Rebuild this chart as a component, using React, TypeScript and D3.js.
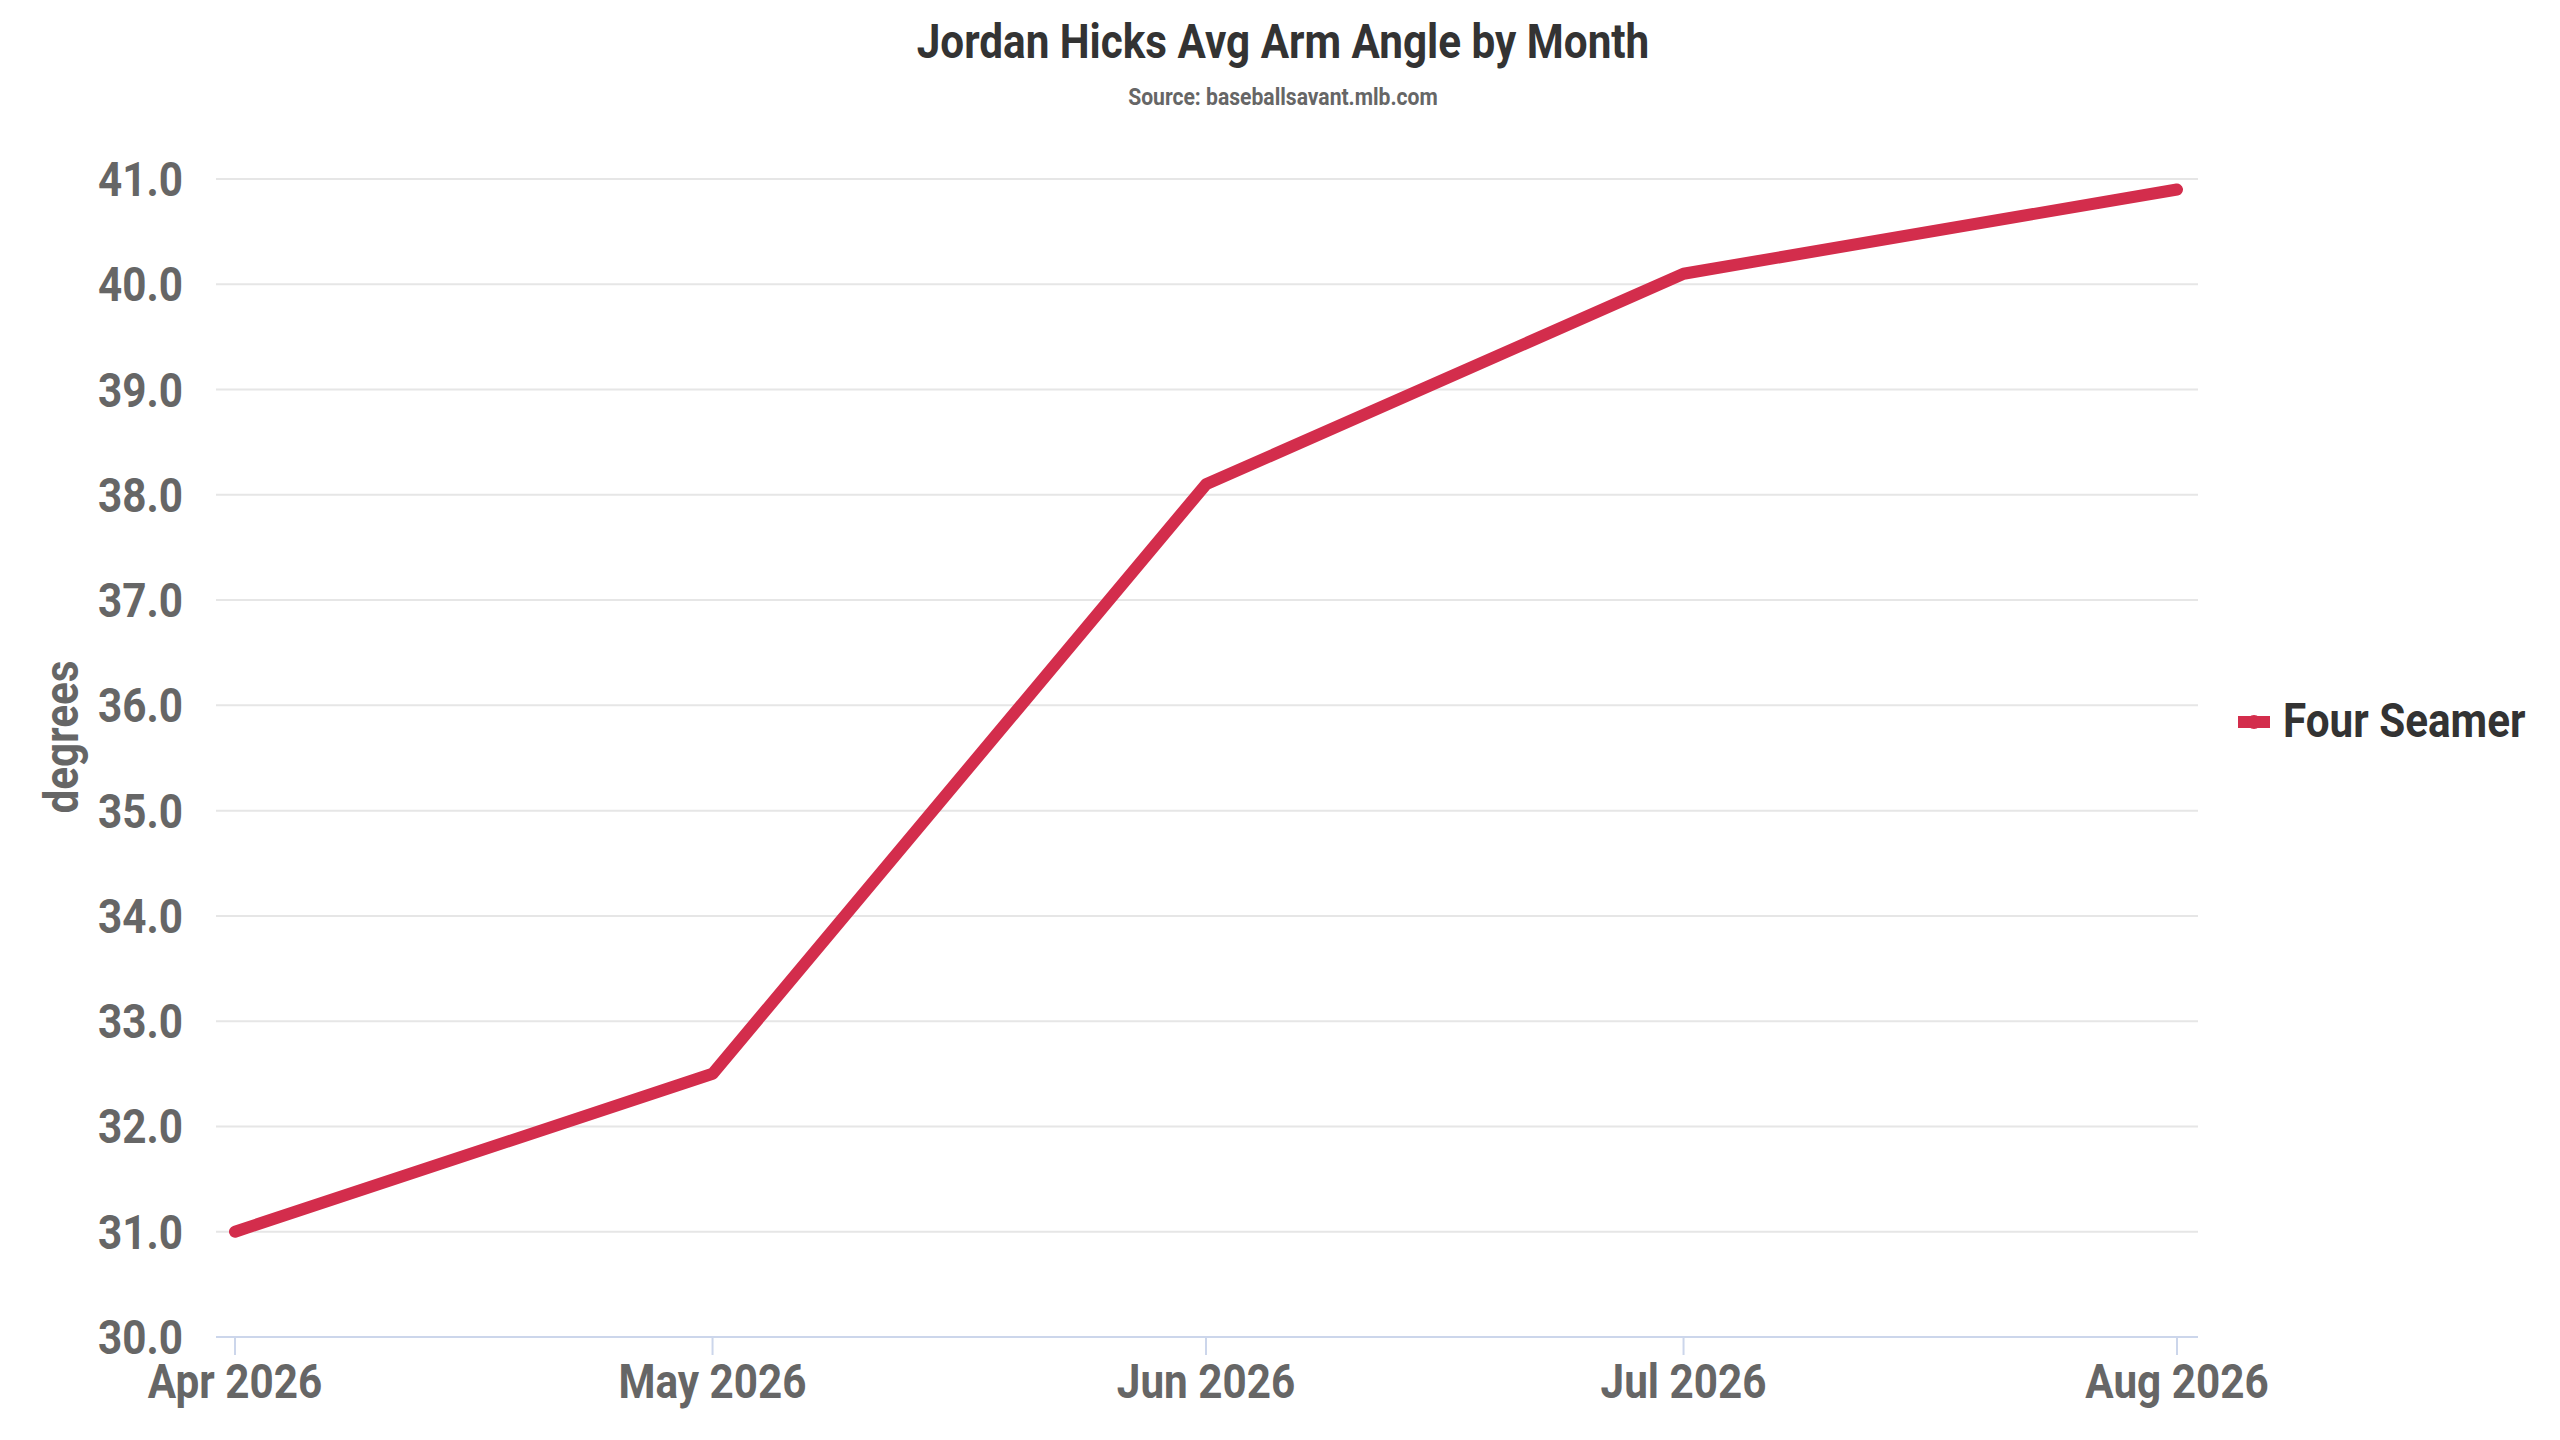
import * as d3 from "d3";

const months = ["2026-04-01", "2026-05-01", "2026-06-01", "2026-07-01", "2026-08-01"];
const fourSeamer = [31.0, 32.5, 38.1, 40.1, 40.9];
const yTicks = [30, 31, 32, 33, 34, 35, 36, 37, 38, 39, 40, 41];
const seriesName = "Four Seamer";
const title = "Jordan Hicks Avg Arm Angle by Month";
const subtitle = "Source: baseballsavant.mlb.com";

const W = 2560, H = 1440;
const plot = { left: 216, right: 2198, top: 179, bottom: 1337 };
const RED = "#d32d4c";
const FONT = "Roboto, 'Noto Sans', sans-serif";
const SQ = 0.88; // squeeze Roboto to look like the condensed face

// text squeezed horizontally around its anchor point
function Cond({ x, y, size, fill, anchor = "start", children, rotate = 0 }: any) {
  return (
    <g transform={`translate(${x},${y}) rotate(${rotate}) scale(${SQ},1)`}>
      <text x={0} y={0} fontSize={size} fontWeight={700} fill={fill} textAnchor={anchor} fontFamily={FONT}>
        {children}
      </text>
    </g>
  );
}

export default function App() {
  const dates = months.map((m) => new Date(m + "T00:00:00Z"));
  const data = dates.map((d, i) => ({ d, v: fourSeamer[i] }));

  const x = d3.scaleUtc().domain([dates[0], dates[dates.length - 1]]).range([235, 2177]);
  const y = d3.scaleLinear().domain([30, 41]).range([plot.bottom, plot.top]);
  const line = d3.line<(typeof data)[0]>().x((p) => x(p.d)).y((p) => y(p.v));
  const fmt = d3.utcFormat("%b %Y");

  return (
    <svg width={W} height={H} style={{ position: "absolute", left: 0, top: 0, background: "#fff" }}>
      <Cond x={1283} y={58} size={48} fill="#333" anchor="middle">{title}</Cond>
      <Cond x={1283} y={105} size={24} fill="#666" anchor="middle">{subtitle}</Cond>

      {yTicks.map((t) => (
        <g key={t}>
          {t !== 30 && (
            <line x1={plot.left} x2={plot.right} y1={y(t)} y2={y(t)} stroke="#e6e6e6" strokeWidth={2} />
          )}
          <Cond x={183} y={y(t) + 17} size={48} fill="#666" anchor="end">{t.toFixed(1)}</Cond>
        </g>
      ))}

      <line x1={plot.left} x2={plot.right} y1={plot.bottom} y2={plot.bottom} stroke="#ccd6eb" strokeWidth={2} />
      {dates.map((d, i) => (
        <g key={i}>
          <line x1={x(d)} x2={x(d)} y1={plot.bottom} y2={plot.bottom + 18} stroke="#ccd6eb" strokeWidth={2} />
          <Cond x={x(d)} y={1398} size={48} fill="#666" anchor="middle">{fmt(d)}</Cond>
        </g>
      ))}

      <Cond x={78} y={737} size={48} fill="#666" anchor="middle" rotate={-90}>degrees</Cond>

      <path d={line(data) ?? ""} fill="none" stroke={RED} strokeWidth={12} strokeLinejoin="round" strokeLinecap="round" />

      <line x1={2238} x2={2270} y1={722} y2={722} stroke={RED} strokeWidth={12} />
      <circle cx={2254} cy={722} r={7} fill={RED} />
      <Cond x={2283} y={737} size={48} fill="#333">{seriesName}</Cond>
    </svg>
  );
}
